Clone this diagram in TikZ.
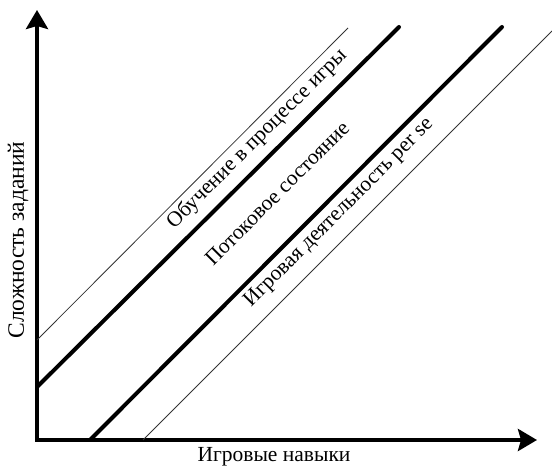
\documentclass[tikz,border=0pt]{standalone}
\usepackage{fontspec}
\setmainfont{Liberation Serif}
\usetikzlibrary{arrows.meta}
\begin{document}
\begin{tikzpicture}[x=1pt,y=1pt,
  axis/.style={line width=4pt,line join=miter,
    {Stealth[length=19pt,width=22pt,inset=3pt]}-{Stealth[length=19pt,width=22pt,inset=3pt]}},
  bound/.style={line width=4pt,line cap=round},
  edge/.style={line width=0.8pt,black!80},
  lbl/.style={inner sep=0pt,font=\fontsize{21.5}{25}\selectfont},
  zone/.style={lbl,rotate=45}]
  \useasboundingbox (0,0) rectangle (552,466);
  % axes
  \coordinate (O) at (37,26);
  \coordinate (ytip) at (37,456);
  \coordinate (xtip) at (537,26);
  \draw[axis] (ytip) -- (O) -- (xtip);
  % boundaries of the zones
  \coordinate (t1a) at (37,126);  \coordinate (t1b) at (348,438);
  \coordinate (k1a) at (37,79);   \coordinate (k1b) at (399,439);
  \coordinate (k2a) at (90,26);   \coordinate (k2b) at (502,439);
  \coordinate (t2a) at (143,26);  \coordinate (t2b) at (552,435);
  \draw[edge] (t1a) -- (t1b);
  \draw[bound] (k1a) -- (k1b);
  \draw[bound] (k2a) -- (k2b);
  \draw[edge] (t2a) -- (t2b);
  % zone labels
  \node[zone] (learn) at (257,327) {Обучение в процессе игры};
  \node[zone] (flow) at (277,273) {Потоковое состояние};
  \node[zone] (play) at (339,253) {Игровая деятельность per se};
  % axis labels
  \node[lbl,rotate=90,font=\fontsize{23.5}{27}\selectfont] (ylab) at (18,226) {Сложность заданий};
  \node[lbl,anchor=base] (xlab) at (274,4) {Игровые навыки};
\end{tikzpicture}
\end{document}
